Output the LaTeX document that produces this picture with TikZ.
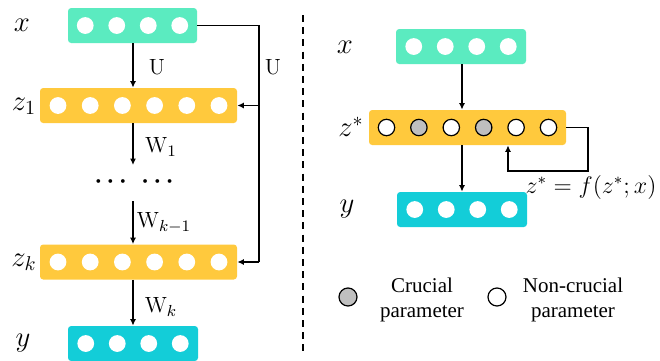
\documentclass[tikz,border=0pt]{standalone}
\usepackage{fontspec}
\newfontfamily\tnr{Liberation Serif}
\usetikzlibrary{arrows.meta}
\definecolor{mintc}{RGB}{91,235,192}
\definecolor{goldc}{RGB}{255,201,61}
\definecolor{cyanc}{RGB}{19,205,216}
\definecolor{greyc}{RGB}{191,191,191}
\begin{document}
\begin{tikzpicture}[x=0.5pt,y=-0.5pt,
  layer/.style={rounded corners=1.6pt, inner sep=0pt, minimum height=17.5pt},
  dot/.style={circle, fill=white, inner sep=0pt, minimum size=8.4pt},
  odot/.style={circle, draw=black, line width=0.6pt, inner sep=0pt, minimum size=8.2pt},
  arr/.style={line width=0.7pt, -{Latex[length=3.2pt,width=3pt]}},
  ln/.style={line width=0.7pt},
  var/.style={font=\fontsize{14}{16}\selectfont},
  wl/.style={font=\fontsize{11}{13}\selectfont},
  leg/.style={font=\tnr\fontsize{10.5}{12.5}\selectfont, align=center}]
\useasboundingbox (0,0) rectangle (660,360);
% ---------- left ----------
\node[layer, fill=mintc, minimum width=64.5pt] (lx) at (132.5,25.5) {};
\node[layer, fill=goldc, minimum width=98.5pt] (lz1) at (138.5,105.5) {};
\node[layer, fill=goldc, minimum width=98.5pt] (lzk) at (138.5,262) {};
\node[layer, fill=cyanc, minimum width=65pt] (ly) at (133,343.5) {};
\foreach \i in {1,...,4} {
  \node[dot, xshift={(\i-2.5)*15.75pt}] (lx\i) at (lx) {};
  \node[dot, xshift={(\i-2.5)*15.75pt}] (ly\i) at (ly) {};
}
\foreach \i in {1,...,6} {
  \node[dot, xshift={(\i-3.5)*16.1pt}] (lza\i) at (lz1) {};
  \node[dot, xshift={(\i-3.5)*16.1pt}] (lzb\i) at (lzk) {};
}
\node[var] (tx) at (22,25) {$x$};
\node[var] (tz1) at (24,106) {$z_1$};
\node[var] (tzk) at (24,262) {$z_k$};
\node[var] (ty) at (23,343) {$y$};
\node[inner sep=0pt, minimum height=18pt, font=\fontsize{13}{14}\selectfont\boldmath] (dots) at (134,182) {$\cdots\hspace{5pt}\cdots$};
\draw[arr] (lx.south -| 133,0) -- (133,0 |- lz1.north);
\draw[arr] (lz1.south -| 133,0) -- (133,165);
\draw[arr] (133,201) -- (133,0 |- lzk.north);
\draw[arr] (lzk.south -| 133,0) -- (133,0 |- ly.north);
\node[wl] (lu) at (157,67) {$\mathrm{U}$};
\node[wl] (lw1) at (161,147) {$\mathrm{W}_1$};
\node[wl] (lwk1) at (164,223) {$\mathrm{W}_{k-1}$};
\node[wl] (lwk) at (161,307) {$\mathrm{W}_k$};
\coordinate (rt) at (259,25.5);
\coordinate (rb) at (259,262);
\draw[ln] (lx.east) -- (rt) -- (rb);
\draw[arr] (rb) -- (lzk.east);
\draw[arr] (rt |- lz1.east) -- (lz1.east);
\node[wl] (ru) at (273,67) {$\mathrm{U}$};
\coordinate (d1) at (303,15);
\coordinate (d2) at (303,356);
\draw[line width=0.65pt, dash pattern=on 3.5pt off 2.6pt] (d1) -- (d2);
% ---------- right ----------
\node[layer, fill=mintc, minimum width=65pt] (rx) at (461,46.5) {};
\node[layer, fill=goldc, minimum width=98.5pt] (rz) at (467.5,127.5) {};
\node[layer, fill=cyanc, minimum width=65pt] (ry) at (462,209.5) {};
\foreach \i in {1,...,4} {
  \node[dot, xshift={(\i-2.5)*15.75pt}] (rx\i) at (rx) {};
  \node[dot, xshift={(\i-2.5)*15.75pt}] (ry\i) at (ry) {};
}
\foreach \i/\c in {1/white,2/greyc,3/white,4/greyc,5/white,6/white} {
  \node[odot, fill=\c, xshift={(\i-3.5)*16.2pt}] (rz\i) at (rz) {};
}
\node[var] (rtx) at (345,47) {$x$};
\node[var] (rtz) at (351,127) {$z^*$};
\node[var] (rty) at (347,209) {$y$};
\draw[arr] (rx.south -| 462,0) -- (462,0 |- rz.north);
\draw[arr] (rz.south -| 462,0) -- (462,0 |- ry.north);
\coordinate (f1) at (588,127.5);
\coordinate (f2) at (588,171);
\coordinate (f3) at (508,171);
\draw[arr] (rz.east) -- (f1) -- (f2) -- (f3) -- (f3 |- rz.south);
\node[font=\fontsize{11.5}{13}\selectfont] (eq) at (591,187) {$z^*=f(z^*;x)$};
% legend
\node[odot, fill=greyc, minimum size=9pt] (lg1) at (348,297) {};
\node[leg] (lt1) at (422,300) {Crucial\\parameter};
\node[odot, fill=white, minimum size=9pt] (lg2) at (497,297) {};
\node[leg] (lt2) at (573,300) {Non-crucial\\parameter};
\end{tikzpicture}
\end{document}
